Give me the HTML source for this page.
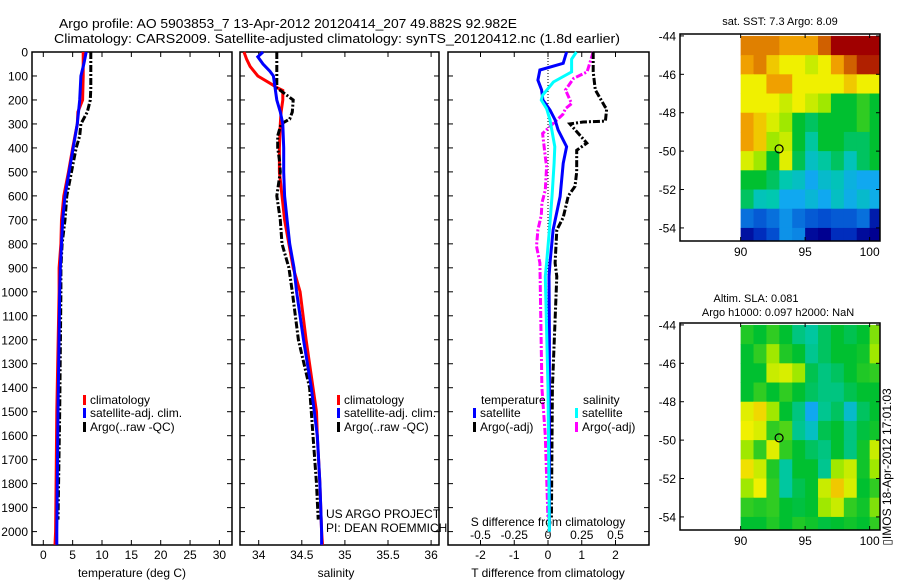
<!DOCTYPE html>
<html><head><meta charset="utf-8">
<style>
html,body{margin:0;padding:0;background:#fff;}
svg{display:block;font-family:"Liberation Sans",Arial,sans-serif;}
text{fill:#000;}
</style></head>
<body>
<svg id="fig" width="900" height="580" viewBox="0 0 900 580" xmlns="http://www.w3.org/2000/svg">
<text x="59" y="28" font-size="13" textLength="458" lengthAdjust="spacingAndGlyphs">Argo profile: AO 5903853_7 13-Apr-2012 20120414_207 49.882S 92.982E</text>
<text x="54" y="43" font-size="13" textLength="566" lengthAdjust="spacingAndGlyphs">Climatology: CARS2009. Satellite-adjusted climatology: synTS_20120412.nc (1.8d earlier)</text>
<g id="g"></g>
</svg>
<script>
// ---------- data ----------
const depthTicks=[0,100,200,300,400,500,600,700,800,900,1000,1100,1200,1300,1400,1500,1600,1700,1800,1900,2000];
const tempTicks=[0,5,10,15,20,25,30];
const salTicks=[34,34.5,35,35.5,36];
const salTickLabels=["34","34.5","35","35.5","36"];
const tdiffTicks=[-2,-1,0,1,2];
const sdiffTicks=[-0.5,-0.25,0,0.25,0.5];
const sdiffTickLabels=["-0.5","-0.25","0","0.25","0.5"];

const climDepth=[0,100,200,250,300,400,500,600,700,800,900,1000,1500,2000,2055];
const climTemp=[6.8,6.8,6.7,5.9,5.8,5.0,4.3,3.5,3.1,3.0,2.7,2.7,2.3,2.1,2.0];
const satDepth=[0,50,100,200,300,400,500,600,700,800,900,1000,1500,2000,2055];
const satTemp=[7.3,6.9,6.4,6.2,5.8,5.1,4.4,3.7,3.3,3.1,2.9,2.8,2.5,2.3,2.3];
const argoDepth=[0,100,150,200,250,300,350,400,450,500,600,700,800,900,1000,1500,1950];
const argoTemp=[8.1,8.1,8.1,8.0,7.5,6.4,6.2,5.6,5.2,4.8,4.0,3.7,3.2,3.0,3.0,2.8,2.5];

const climSalDepth=[0,30,60,100,130,150,160,200,250,300,400,500,600,700,800,900,1000,1200,1400,1500,1600,1800,2000,2055];
const climSal=[33.83,33.86,33.9,33.99,34.13,34.22,34.28,34.28,34.26,34.25,34.24,34.24,34.27,34.30,34.35,34.40,34.48,34.55,34.63,34.67,34.68,34.71,34.73,34.74];
const satSalDepth=[0,20,50,80,100,150,200,250,300,400,500,600,700,800,900,1000,1200,1400,1600,1800,2000,2055];
const satSal=[34.05,33.99,34.05,34.13,34.17,34.19,34.21,34.25,34.28,34.29,34.29,34.30,34.33,34.36,34.41,34.44,34.52,34.61,34.68,34.71,34.73,34.73];
const argoSalDepth=[0,150,160,200,250,280,300,350,400,450,500,600,700,800,900,1000,1200,1400,1600,1800,1950];
const argoSal=[34.21,34.21,34.25,34.40,34.39,34.36,34.26,34.22,34.22,34.24,34.25,34.21,34.25,34.27,34.35,34.39,34.46,34.59,34.63,34.67,34.69];

const dDepth=[0,47,75,117,158,200,242,283,325,395,464,603,742,880,936,1200,1600,2000];
const dTsat=[0.55,0.45,-0.24,-0.3,-0.19,-0.15,0.06,0.21,0.30,0.55,0.45,0.36,0.15,0.06,0.03,0.04,0.04,0.04];
const sDepth=[0,30,83,125,180,200,236,283,395,464,603,742,880,936,1400,2000];
const dSsat=[0.21,0.175,0.175,0.04,-0.04,-0.05,-0.01,0.015,0.05,0.045,0.03,0.01,-0.01,-0.02,0.0,0.01];
const taDepth=[0,83,158,228,236,288,292,300,380,410,500,560,600,690,742,880,936,1400,1950];
const dTargo=[1.34,1.34,1.4,1.69,1.74,1.7,1.04,0.65,1.15,0.85,0.85,0.8,0.6,0.45,0.26,0.21,0.26,0.13,0.1];
const saDepth=[0,83,110,158,215,236,260,340,437,478,575,631,680,742,810,880,1400,1600,1950];
const dSargo=[0.335,0.29,0.19,0.13,0.175,0.13,0.11,-0.04,-0.02,-0.01,-0.02,-0.045,-0.05,-0.075,-0.085,-0.06,-0.045,-0.02,0.0];

const mapLons=[90,91,92,93,94,95,96,97,98,99,100];
const mapLats=[-44,-45,-46,-47,-48,-49,-50,-51,-52,-53,-54,-55];
const sstGrid=[
[8,8,8,7.5,7.5,7.5,8.5,10,10,10,10],
[7.5,8,7,6.5,6.5,6,6.5,7.5,8.5,9.5,9.5],
[6.5,6.5,7.5,7.5,6.5,6.5,6.5,6.5,7,6.5,6.5],
[6.5,6.5,6.5,6,6.5,6,5.5,4.5,4.5,4.8,4.5],
[7.5,7,6.2,5.5,4.5,4.2,4.5,4.5,4.5,4.8,4.5],
[7.5,7,5.5,6,4.5,3.8,4.5,4.5,4.2,4.2,4.5],
[6.2,5.5,4.5,6.3,4.3,3.5,3.8,4.2,3.6,4.2,4.5],
[4.5,4.5,4.2,3.7,3.5,3.0,3.4,3.6,3.2,3.0,3.0],
[4.2,3.6,3.7,3.0,3.0,3.3,3.0,3.5,3.1,3.4,3.1],
[2.5,2.3,2.5,2.8,2.5,2.3,2.2,2.3,2.3,2.5,1.5],
[1.3,1.8,2.2,2.8,2.7,1.2,1.0,1.8,1.8,1.2,1.0],
[0.8,1.0,1.8,2.7,2.8,2.2,1.2,1.8,1.2,0.8,0.8]];
const slaGrid=[
[4.7,4.5,4.8,4.5,4.0,3.8,4.2,4.5,4.3,4.5,5.3],
[4.5,4.8,5.5,4.7,4.5,3.9,4.2,4.5,4.5,4.6,5.5],
[4.5,4.5,6.0,6.2,5.5,4.3,4.0,4.2,4.5,4.7,4.8],
[4.5,4.8,4.5,4.8,4.5,4.2,4.0,4.0,4.3,4.5,4.5],
[6.3,6.8,5.5,4.5,4.0,3.0,3.9,4.2,3.4,4.2,4.5],
[6.5,6.2,4.8,5.0,3.9,3.5,4.3,4.5,4.0,4.4,4.6],
[5.5,4.8,6.3,4.8,4.5,4.2,4.0,4.5,4.0,4.6,6.0],
[6.7,6.0,4.7,3.8,4.5,4.5,3.9,5.5,6.0,4.6,5.5],
[5.5,6.5,4.8,3.8,4.3,4.5,6.0,7.0,6.2,4.5,4.8],
[4.8,4.7,4.8,4.5,4.4,4.5,5.5,6.0,4.8,4.6,5.3],
[4.5,4.5,4.7,4.5,4.7,4.6,4.4,4.5,4.6,4.5,4.8],
[4.6,5.2,4.7,5.3,5.4,4.7,4.5,4.6,4.6,4.5,4.5]];
const latTicks=[-44,-46,-48,-50,-52,-54];
const lonTicks=[90,95,100];
const argoLon=92.982, argoLat=-49.882;

// ---------- drawing ----------
const NS="http://www.w3.org/2000/svg";
const G=document.getElementById('g');
function mk(tag,attrs,parent){const e=document.createElementNS(NS,tag);for(const k in attrs)e.setAttribute(k,attrs[k]);(parent||G).appendChild(e);return e;}
function txt(s,x,y,size,anchor,parent){const t=mk('text',{x:x,y:y,'font-size':size,'text-anchor':anchor||'start'},parent);t.textContent=s;return t;}

const TOP=52,BOT=545;
const yD=d=>TOP+d*0.2398;
const P1={l:32,r:232},P2={l:240,r:439},P3={l:448,r:649};
const xT=v=>43.3+v*5.87;
const xS=v=>258.7+(v-34)*86.2;
const xdT=v=>548+v*33.75;
const xdS=v=>548+v*135;

function panel(P,name){
  const r=mk('rect',{x:P.l,y:TOP,width:P.r-P.l,height:BOT-TOP,fill:'none',stroke:'#000','stroke-width':1.5});
  
  
  depthTicks.forEach(d=>{
    mk('line',{x1:P.l,x2:P.l+5,y1:yD(d),y2:yD(d),stroke:'#000'});
    mk('line',{x1:P.r-5,x2:P.r,y1:yD(d),y2:yD(d),stroke:'#000'});
  });
}
function xticks(P,vals,fx,labels,ly,name){
  vals.forEach((v,i)=>{
    const x=fx(v);
    mk('line',{x1:x,x2:x,y1:TOP,y2:TOP+5,stroke:'#000'});
    mk('line',{x1:x,x2:x,y1:BOT-5,y2:BOT,stroke:'#000'});
    const t=txt(labels?labels[i]:String(v),x,ly,12,'middle');
    
    
  });
}
function line(ds,vs,fx,color,w,dash,name){
  const pts=ds.map((d,i)=>fx(vs[i]).toFixed(1)+','+yD(d).toFixed(1)).join(' ');
  const a={points:pts,fill:'none',stroke:color,'stroke-width':w};
  if(dash)a['stroke-dasharray']=dash;
  const p=mk('polyline',a);
  
  
}
function legend(x,y,color,label,name){
  mk('rect',{x:x,y:y-5,width:3,height:10,fill:color});
  const t=txt(label,x+7,y+4,12);
  
  
}

// panel 1
panel(P1,'temperature-panel');
depthTicks.forEach(d=>{const t=txt(String(d),28,yD(d)+4.5,12,'end');
  
  });
xticks(P1,tempTicks,xT,null,559,'temperature-tick-label');
let t1=txt('temperature (deg C)',132,577,12,'middle');


line(climDepth,climTemp,xT,'#f00',3,null,'climatology-temperature-line');
line(argoDepth,argoTemp,xT,'#000',3,'7,2,2,2','argo-temperature-line');
line(satDepth,satTemp,xT,'#00f',3,null,'satellite-temperature-line');
legend(83,400,'#f00','climatology','legend-climatology');
legend(83,413,'#00f','satellite-adj. clim.','legend-satellite');
legend(83,427,'#000','Argo(..raw -QC)','legend-argo');

// panel 2
panel(P2,'salinity-panel');
xticks(P2,salTicks,xS,salTickLabels,559,'salinity-tick-label');
let t2=txt('salinity',336,577,12,'middle');


line(climSalDepth,climSal,xS,'#f00',3,null,'climatology-salinity-line');
line(argoSalDepth,argoSal,xS,'#000',3,'7,2,2,2','argo-salinity-line');
line(satSalDepth,satSal,xS,'#00f',3,null,'satellite-salinity-line');
legend(337,400,'#f00','climatology','legend-climatology-2');
legend(337,413,'#00f','satellite-adj. clim.','legend-satellite-2');
legend(337,427,'#000','Argo(..raw -QC)','legend-argo-2');
let c1=txt('US ARGO PROJECT',326,518,12);


let c2=txt('PI: DEAN ROEMMICH',326,532,12);



// panel 3
panel(P3,'difference-panel');
mk('line',{x1:xdT(0),x2:xdT(0),y1:TOP,y2:BOT,stroke:'#000','stroke-dasharray':'1,2'});
xticks(P3,tdiffTicks,xdT,null,559,'t-difference-tick-label');
sdiffTicks.forEach((v,i)=>{const t=txt(sdiffTickLabels[i],xdS(v),539,12,'middle');
  
  });
let s3=txt('S difference from climatology',548,526,12,'middle');


let t3=txt('T difference from climatology',548,577,12,'middle');


line(saDepth,dSargo,xdS,'#f0f',3,'7,2,2,2','argo-salinity-difference-line');
line(taDepth,dTargo,xdT,'#000',3,'7,2,2,2','argo-temperature-difference-line');
line(dDepth,dTsat,xdT,'#00f',3,null,'satellite-temperature-difference-line');
line(sDepth,dSsat,xdS,'#0ff',3,null,'satellite-salinity-difference-line');
let lt=txt('temperature',481,404,12);
let ls=txt('salinity',583,404,12);
legend(473,413,'#00f','satellite','legend-t-satellite');
legend(473,427,'#000','Argo(-adj)','legend-t-argo');
legend(575,413,'#0ff','satellite','legend-s-satellite');
legend(575,427,'#f0f','Argo(-adj)','legend-s-argo');

// maps
const stops=[[0,[0,0,120]],[1,[0,0,144]],[2,[0,56,200]],[3,[16,168,240]],[3.7,[0,200,176]],[4.5,[0,192,48]],[5.5,[160,232,0]],[6.5,[240,240,0]],[7.5,[240,160,0]],[8.5,[208,96,0]],[10,[160,0,0]]];
function col(v){
  for(let i=1;i<stops.length;i++){if(v<=stops[i][0]){const a=stops[i-1],b=stops[i];const f=(v-a[0])/(b[0]-a[0]);
    return 'rgb('+a[1].map((c,k)=>Math.round(c+(b[1][k]-c)*f)).join(',')+')';}}
  return 'rgb(160,0,0)';
}
const ML=680,MR=880,LON0=85.3,LONK=12.9,LATTOP=-43.9,LATK=19.2,MH=207;
const xLon=l=>ML+(l-LON0)*LONK;
function drawMap(top,grid,name){
  const yLat=la=>top+(LATTOP-la)*LATK;
  const g=mk('g',{});
  
  
  grid.forEach((row,j)=>row.forEach((v,i)=>{
    const x0=xLon(mapLons[i]),x1=Math.min(xLon(mapLons[i]+1),MR);
    const y0=Math.max(yLat(mapLats[j]),top),y1=Math.min(yLat(mapLats[j]-1),top+MH);
    if(y1<=y0)return;
    const c=mk('rect',{x:x0,y:y0,width:x1-x0+0.5,height:y1-y0+0.5,fill:col(v)},g);
    
    
  }));
  mk('rect',{x:ML,y:top,width:MR-ML,height:MH,fill:'none',stroke:'#000','stroke-width':1.5});
  latTicks.forEach(la=>{const y=yLat(la);
    mk('line',{x1:ML,x2:ML+4,y1:y,y2:y,stroke:'#000'});mk('line',{x1:MR-4,x2:MR,y1:y,y2:y,stroke:'#000'});
    const t=txt(String(la),676,y+4.5,12,'end');
    
    });
  lonTicks.forEach(lo=>{const x=xLon(lo);
    mk('line',{x1:x,x2:x,y1:top,y2:top+4,stroke:'#000'});mk('line',{x1:x,x2:x,y1:top+MH-4,y2:top+MH,stroke:'#000'});
    const t=txt(String(lo),x,top+MH+15,12,'middle');
    
    });
  const m=mk('circle',{cx:xLon(argoLon),cy:yLat(argoLat),r:4,fill:'none',stroke:'#000','stroke-width':1.2});
  
  
}
drawMap(34,sstGrid,'sst-map');
drawMap(323,slaGrid,'sla-map');
let mt1=txt('sat. SST: 7.3 Argo: 8.09',780,25,11,'middle');
let mt2=txt('Altim. SLA: 0.081',756,302,11,'middle');
let mt3=txt('Argo h1000: 0.097 h2000: NaN',778,316,11,'middle');
let vt=txt('\u25AFIMOS 18-Apr-2012 17:01:03',0,0,12,'middle');
vt.setAttribute('transform','translate(891,467) rotate(-90)');


</script>
</body></html>
